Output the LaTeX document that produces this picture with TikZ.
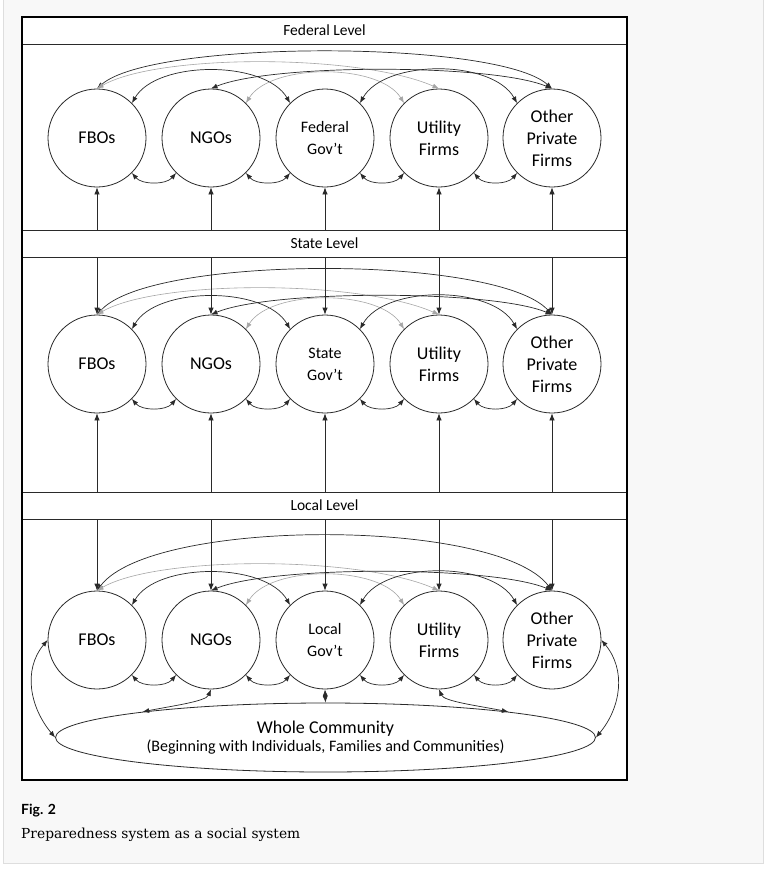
\documentclass[tikz,border=0pt]{standalone}
\usepackage{fontspec}
\setmainfont{Carlito}
\newfontfamily\capsans{Lato}
\newfontfamily\capserif{DejaVu Serif}
\usetikzlibrary{arrows.meta, shapes.geometric}

\definecolor{panel}{HTML}{F8F8F8}
\definecolor{panelline}{HTML}{DEDEDE}
\definecolor{linkdark}{HTML}{2A2A2A}
\definecolor{linklight}{HTML}{A6A6A6}

\tikzset{
	actor/.style={draw=linkdark, line width=0.8pt, circle, minimum size=98pt, inner sep=0pt, align=center, font=\fontsize{18}{22}\selectfont},
	band/.style={draw=linkdark, line width=0.8pt, minimum width=605pt, minimum height=27pt, inner sep=0pt, font=\fontsize{15.5}{18}\selectfont},
	link/.style={linkdark, line width=0.7pt, {Latex[length=6.5pt,width=5pt]}-{Latex[length=6.5pt,width=5pt]}},
	faint/.style={link, linklight, line width=0.6pt},
	feed/.style={linkdark, line width=0.8pt, -{Latex[length=7pt,width=5.5pt]}},
}

\begin{document}
\begin{tikzpicture}[x=1pt, y=-1pt]
	\useasboundingbox (0,0) rectangle (768,870);
	\fill[panel] (3,-2) rectangle (763,863);
	\draw[panelline] (3,-2) -- (3,863) -- (763,863) -- (763,-2);
	\fill[white] (22,17) rectangle (627,780);

	\node[band] (fedband) at (324.5,30.5) {Federal Level};
	\node[band] (stateband) at (324.5,243.5) {State Level};
	\node[band] (localband) at (324.5,505.5) {Local Level};

	\foreach \r/\cy/\gov in {f/138/Federal, s/364/State, l/640/Local}{
		\node[actor] (\r1) at (97,\cy) {FBOs};
		\node[actor] (\r2) at (211,\cy) {NGOs};
		\node[actor, font=\fontsize{16}{22}\selectfont] (\r3) at (325,\cy) {\gov\\Gov’t};
		\node[actor] (\r4) at (439,\cy) {Utility\\Firms};
		\node[actor] (\r5) at (552,\cy) {Other\\Private\\Firms};
	}

	\foreach \r/\hb in {f/49, s/60, l/73}{
		\draw[link] (\r1.north) .. controls +(55,-\hb) and +(-55,-\hb) .. (\r5.north);
		\draw[faint] (\r1.north) .. controls +(60,-35) and +(-80,-35) .. (\r4.north);
		\draw[link] (\r1.45) .. controls +(25,-43) and +(-25,-43) .. (\r3.135);
		\draw[link] (\r2.north) .. controls +(60,-25) and +(-60,-25) .. (\r5.north);
		\draw[faint] (\r2.45) .. controls +(25,-40) and +(-25,-40) .. (\r4.135);
		\draw[link] (\r3.45) .. controls +(25,-44) and +(-25,-44) .. (\r5.135);
		\foreach \a/\b in {1/2, 2/3, 3/4, 4/5}
			\draw[link] (\r\a.-45) .. controls +(10,12) and +(-10,12) .. (\r\b.-135);
	}

	\foreach \i in {1,...,5}{
		\draw[feed] (stateband.north -| f\i.south) -- (f\i.south);
		\draw[feed] (stateband.south -| s\i.north) -- (s\i.north);
		\draw[feed] (localband.north -| s\i.south) -- (s\i.south);
		\draw[feed] (localband.south -| l\i.north) -- (l\i.north);
	}

	\node[draw=linkdark, line width=0.8pt, ellipse, minimum width=540pt, minimum height=69pt, inner sep=0pt, align=center] (comm) at (325.5,737.5) {{\fontsize{18}{20}\selectfont Whole Community}\\[3pt]{\fontsize{16}{18}\selectfont (Beginning with Individuals, Families and Communities)}};

	\draw[link] (l2.south) .. controls +(-5,12) and +(30,-6) .. (comm.172);
	\draw[link] (l3.south) -- (comm.north);
	\draw[link] (l4.south) .. controls +(5,12) and +(-30,-6) .. (comm.8);
	\draw[link] (l1.west) .. controls +(-25,30) and +(-25,-30) .. (comm.west);
	\draw[link] (l5.east) .. controls +(25,30) and +(25,-30) .. (comm.east);

	\draw[line width=2.2pt] (22,17) rectangle (627,780);

	\node[anchor=west, inner sep=0pt, font=\capsans\bfseries\fontsize{14}{16}\selectfont] (figno) at (21,811) {Fig. 2};
	\node[anchor=west, inner sep=0pt, font=\capserif\fontsize{13.8}{16}\selectfont] (figtitle) at (21,835) {Preparedness system as a social system};
\end{tikzpicture}
\end{document}
